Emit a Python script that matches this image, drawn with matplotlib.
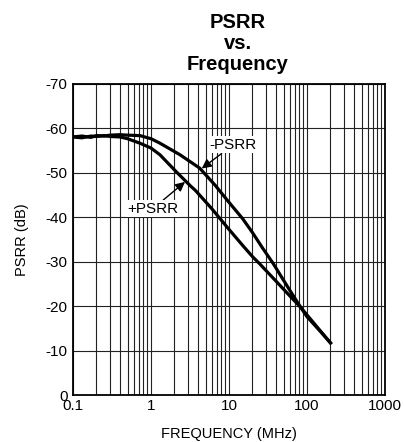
import matplotlib
matplotlib.use("Agg")
import matplotlib.pyplot as plt
from matplotlib.ticker import FixedLocator, NullFormatter

plt.rcParams['font.family'] = ['Liberation Sans', 'DejaVu Sans']
plt.rcParams['axes.unicode_minus'] = False

# Data (frequency in MHz, PSRR in dB)
freq_pos = [0.1, 0.13, 0.17, 0.2, 0.25, 0.3, 0.4, 0.5, 0.72, 1.0, 1.3, 2.1, 3.2, 3.7, 6.0,
            9.8, 15, 20, 25, 32, 40, 60, 81, 100, 150, 200]
psrr_pos = [-58.0, -57.8, -58.2, -58.1, -58.3, -58.1, -58.0, -57.6, -56.6, -55.5, -54.0, -50.2,
            -47.0, -46.0, -41.9, -37.4, -33.6, -31.1, -29.4, -27.4, -25.6, -22.3, -19.9, -18.0,
            -14.3, -11.7]

freq_neg = [0.1, 0.13, 0.17, 0.2, 0.25, 0.3, 0.4, 0.5, 0.72, 1.0, 1.3, 2.35, 4.2, 6.6, 10,
            15, 20, 27, 37, 50, 65, 81, 100, 150, 200]
psrr_neg = [-58.0, -58.2, -57.9, -58.3, -58.2, -58.4, -58.5, -58.4, -58.3, -57.6, -56.6, -54.0,
            -51.0, -47.2, -43.3, -39.6, -36.5, -33.0, -29.5, -25.8, -22.6, -20.0, -17.6,
            -14.2, -11.7]

y_ticks = [0, -10, -20, -30, -40, -50, -60, -70]
x_ticks = [0.1, 1, 10, 100, 1000]
x_tick_labels = ["0.1", "1", "10", "100", "1000"]

fig = plt.figure(figsize=(4.04, 4.42), dpi=100)
ax = fig.add_axes([0.1807, 0.1063, 0.7723, 0.7047])

ax.set_xscale('log')
ax.set_xlim(0.1, 1000)
ax.set_ylim(0, -70)

ax.set_xticks(x_ticks)
ax.set_xticklabels(x_tick_labels)
minors = [m * 10.0 ** e for e in range(-1, 3) for m in range(2, 10)]
ax.xaxis.set_minor_locator(FixedLocator(minors))
ax.xaxis.set_minor_formatter(NullFormatter())
ax.set_yticks(y_ticks)
ax.set_yticklabels([str(v) for v in y_ticks])

ax.grid(True, which='both', axis='x', color='#222222', lw=0.8)
ax.grid(True, which='major', axis='y', color='#222222', lw=0.8)
ax.tick_params(which='both', length=0, labelsize=11, pad=4)
ax.tick_params(axis='x', pad=3)
for s in ax.spines.values():
    s.set_linewidth(1.3)
    s.set_color('black')
ax.set_axisbelow(True)

ax.plot(freq_pos, psrr_pos, color='black', lw=2.3, solid_joinstyle='round')
ax.plot(freq_neg, psrr_neg, color='black', lw=2.3, solid_joinstyle='round')

bbox = dict(boxstyle='square,pad=0.1', fc='white', ec='none')
ax.annotate('-PSRR', xy=(4.47, -50.9), xytext=(11.25, -56.2), ha='center', va='center',
            fontsize=11, bbox=bbox,
            arrowprops=dict(arrowstyle='-|>', color='black', lw=1.0, mutation_scale=14,
                            shrinkA=0, shrinkB=0))
ax.annotate('+PSRR', xy=(2.73, -47.9), xytext=(1.06, -41.9), ha='center', va='center',
            fontsize=11, bbox=bbox,
            arrowprops=dict(arrowstyle='-|>', color='black', lw=1.0, mutation_scale=14,
                            shrinkA=0, shrinkB=0))

ax.set_ylabel('PSRR (dB)', fontsize=10.5, labelpad=12)
ax.set_xlabel('FREQUENCY (MHz)', fontsize=10.5, labelpad=10)

fig.text(238 / 404, 1 - 13 / 442, 'PSRR\nvs.\nFrequency', ha='center', va='top',
         fontsize=14.5, fontweight='bold', linespacing=1.15, multialignment='center')

fig.savefig('out.png', dpi=100)
